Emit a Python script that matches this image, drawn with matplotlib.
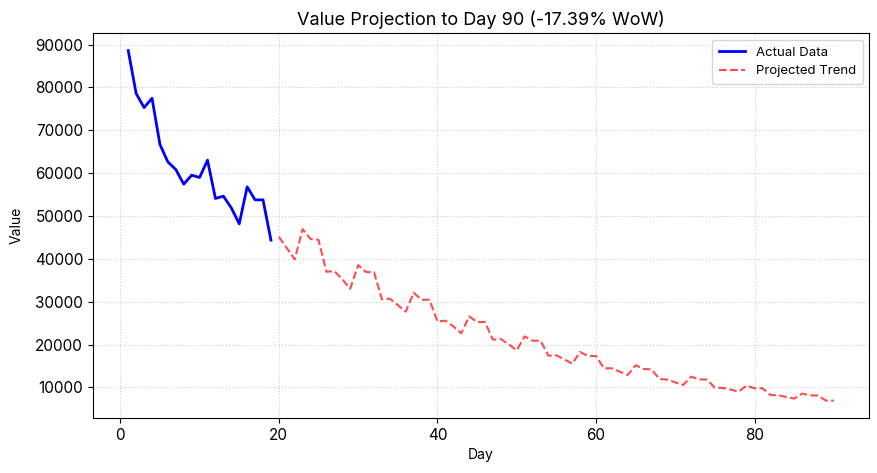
import matplotlib
matplotlib.use("Agg")
import matplotlib.pyplot as plt

plt.rcParams['font.family'] = ['Inter', 'DejaVu Sans']

actual_days = list(range(1, 20))
actual_values = [88600, 78580, 75310, 77480, 66690, 62630, 60860, 57440, 59530, 59000,
                 63030, 54100, 54640, 51910, 48180, 56810, 53780, 53780, 44380]

proj_days = list(range(20, 91))
proj_values = [45160, 42520, 39875, 46950, 44615, 44460, 37000, 37155, 35215, 33040,
               38550, 36920, 36920, 30550, 30700, 29230, 27680, 32100, 30470, 30470,
               25420, 25580, 24260, 22630, 26590, 25270, 25270, 21150, 21300, 20060,
               18670, 21930, 20920, 20920, 17400, 17500, 16560, 15555, 18275, 17340,
               17340, 14470, 14470, 13690, 12910, 15170, 14310, 14235, 11980, 11830,
               11200, 10580, 12525, 11900, 11830, 9960, 9880, 9495, 9030, 10430,
               9805, 9805, 8250, 8175, 7785, 7400, 8560, 8175, 8100, 6930, 6930]

title = "Value Projection to Day 90 (-17.39% WoW)"

fig, ax = plt.subplots(figsize=(8.77, 4.73), dpi=100)
ax.plot(actual_days, actual_values, color='blue', linewidth=2, label='Actual Data')
ax.plot(proj_days, proj_values, color='red', alpha=0.7, linestyle='--', linewidth=1.5,
        label='Projected Trend')
ax.set_title(title, fontsize=13)
ax.set_xlabel('Day', fontsize=10)
ax.set_ylabel('Value', fontsize=10, labelpad=8)
ax.tick_params(labelsize=11)
ax.grid(True, linestyle=':', alpha=0.6)
ax.legend(loc='upper right', fontsize=9.5, borderpad=0.5)
fig.subplots_adjust(left=0.106, right=0.991, top=0.93, bottom=0.116)
fig.savefig('out.png', dpi=100)
